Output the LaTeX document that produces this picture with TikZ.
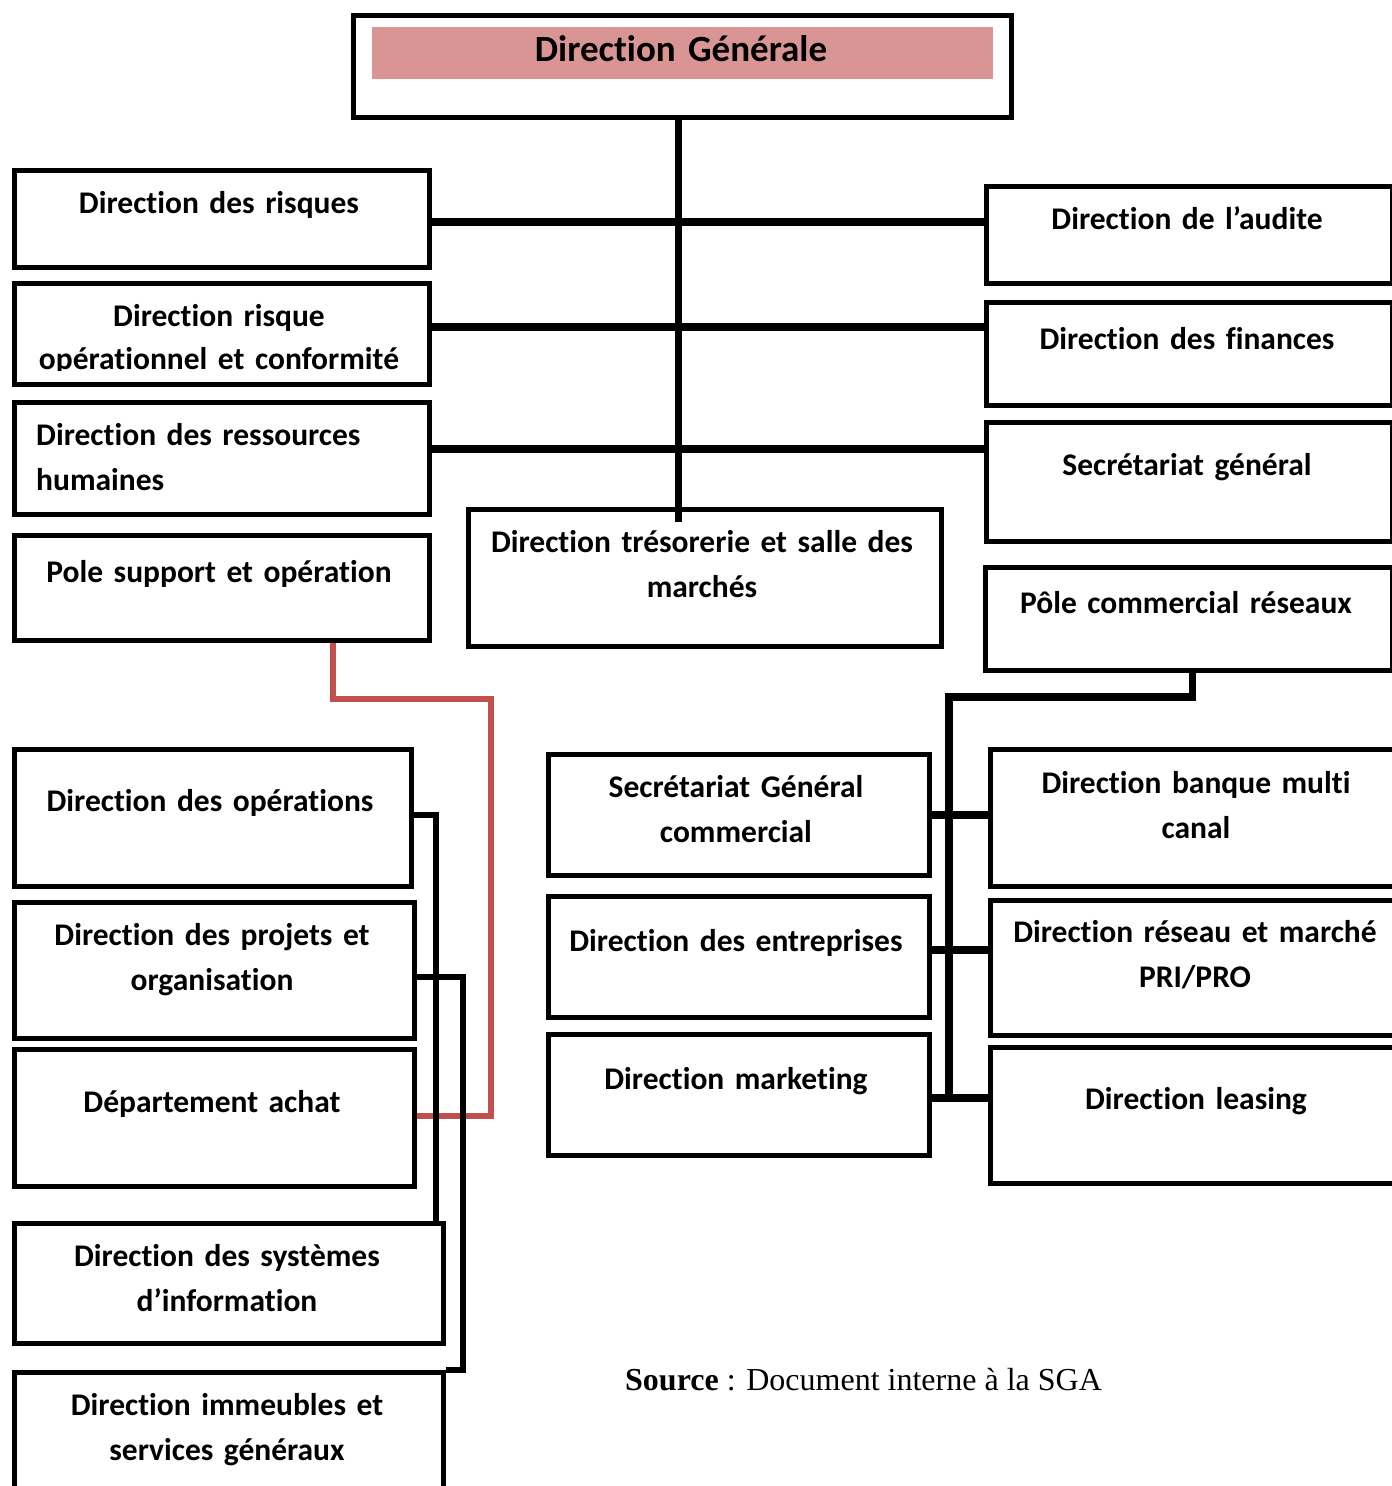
\documentclass[tikz,border=0pt]{standalone}
\usepackage{fontspec}
\setmainfont[Ligatures=NoCommon, WordSpace=0.8]{Carlito}
\newfontfamily\srcfont{Liberation Serif}
\definecolor{titlepink}{RGB}{217,148,148}
\definecolor{linkred}{RGB}{192,80,77}
\begin{document}
\begin{tikzpicture}[x=1pt,y=-1pt,
  box/.style={draw=black, line width=4.5pt, fill=white, rectangle, inner sep=0pt, anchor=north west},
  txt/.style={font=\fontsize{31.5}{45}\selectfont\bfseries, text width=470pt, align=center, anchor=base, inner sep=0pt},
  txtleft/.style={txt, align=left, anchor=base west},
  link/.style={draw=black, line width=7.5pt},
  sublink/.style={draw=black, line width=6.5pt},
  redlink/.style={draw=linkred, line width=6pt}]
\useasboundingbox (0,0) rectangle (1392,1486);

% ---- head ----
\node[box, minimum width=658pt, minimum height=102pt] (dg) at (351,13) {};
\fill[titlepink] (372,27) rectangle (993,79);
\node[txt, font=\fontsize{37}{45}\selectfont\bfseries] (dgtext) at (681,61) {Direction Générale};

% ---- upper left column ----
\node[box, minimum width=415pt, minimum height=97pt]  (risques) at (12,168) {};
\node[box, minimum width=415pt, minimum height=101pt] (rop)     at (12,281) {};
\node[box, minimum width=415pt, minimum height=112pt] (rh)      at (12,400) {};
\node[box, minimum width=415pt, minimum height=105pt] (pso)     at (12,533) {};

% ---- upper right column ----
\node[box, minimum width=406pt, minimum height=97pt]  (audit) at (984,184) {};
\node[box, minimum width=406pt, minimum height=103pt] (fin)   at (984,300) {};
\node[box, minimum width=406pt, minimum height=119pt] (sg)    at (984,420) {};
\node[box, minimum width=407pt, minimum height=103pt] (pcr)   at (983,565) {};

% ---- centre ----
\node[box, minimum width=473pt, minimum height=137pt] (tres) at (466,507) {};

% ---- commercial branch ----
\node[box, minimum width=381pt, minimum height=121pt] (sgc) at (546,752) {};
\node[box, minimum width=381pt, minimum height=121pt] (ent) at (546,894) {};
\node[box, minimum width=381pt, minimum height=121pt] (mkt) at (546,1032) {};
\node[box, minimum width=412pt, minimum height=137pt] (dbm) at (988,747) {};
\node[box, minimum width=412pt, minimum height=135pt] (drm) at (988,898) {};
\node[box, minimum width=412pt, minimum height=136pt] (lea) at (988,1045) {};

% ---- support branch ----
\node[box, minimum width=397pt, minimum height=137pt] (ops) at (12,747) {};
\node[box, minimum width=400pt, minimum height=136pt] (dpo) at (12,900) {};
\node[box, minimum width=400pt, minimum height=137pt] (ach) at (12,1047) {};
\node[box, minimum width=429pt, minimum height=120pt] (dsi) at (12,1221) {};
\node[box, minimum width=429pt, minimum height=130pt] (dis) at (12,1370) {};

% ---- connector helpers ----
\coordinate (h1) at (0,222);
\coordinate (h2) at (0,327);
\coordinate (h3) at (0,449);
\coordinate (rbus) at (949,697);
\coordinate (rend) at (949,1098);
\coordinate (r1) at (0,815);
\coordinate (r2) at (0,950);
\coordinate (r3) at (0,1098);
\coordinate (l1) at (0,815);
\coordinate (l2) at (0,977);
\coordinate (lv1) at (436,0);
\coordinate (lv2) at (463,0);
\coordinate (rc1) at (491,699);
\coordinate (rc2) at (491,1116);

% red link: pole support -> achat
\draw[redlink] ([xshift=111.5pt]pso.south) |- (rc1) -- (rc2) -- (ach.east |- rc2);

% trunk and rails
\draw[link] ([xshift=-4pt]dg.south) -- ([xshift=-26.5pt,yshift=-15pt]tres.north);
\draw[link] (risques.east |- h1) -- (audit.west |- h1);
\draw[link] (rop.east |- h2) -- (fin.west |- h2);
\draw[link] (rh.east |- h3) -- (sg.west |- h3);

% commercial tree
\draw[link] ([xshift=3.5pt]pcr.south) |- (rbus) -- (rend);
\draw[link] (sgc.east |- r1) -- (dbm.west |- r1);
\draw[link] (ent.east |- r2) -- (drm.west |- r2);
\draw[link] (mkt.east |- r3) -- (lea.west |- r3);

% support tree
\draw[sublink] (ops.east |- l1) -| (lv1 |- dsi.north);
\draw[sublink] (dpo.east |- l2) -| (lv2 |- dis.north) -- (dis.north east);

% ---- labels ----
\node[txt] at (219,213) {Direction des risques};
\begin{scope}
  \clip (12,281) rectangle (427,370);
  \node[txt, font=\fontsize{31.5}{43}\selectfont\bfseries] at (219,326) {Direction risque\\opérationnel et conformité};
\end{scope}
\node[txtleft] at (36,445) {Direction des ressources\\humaines};
\node[txt] at (219,582) {Pole support et opération};

\node[txt] at (1187,229) {Direction de l’audite};
\node[txt] at (1187,349) {Direction des finances};
\node[txt] at (1187,475) {Secrétariat général};
\node[txt] at (1186,613) {Pôle commercial réseaux};

\node[txt] at (702,552) {Direction trésorerie et salle des\\marchés};

\node[txt] at (736,797) {Secrétariat Général\\commercial};
\node[txt] at (736,951) {Direction des entreprises};
\node[txt] at (736,1089) {Direction marketing};
\node[txt] at (1196,793) {Direction banque multi\\canal};
\node[txt] at (1195,942) {Direction réseau et marché\\PRI/PRO};
\node[txt] at (1196,1109) {Direction leasing};

\node[txt] at (210,811) {Direction des opérations};
\node[txt] at (212,945) {Direction des projets et\\organisation};
\node[txt] at (212,1112) {Département achat};
\node[txt] at (227,1266) {Direction des systèmes\\d’information};
\node[txt] at (227,1415) {Direction immeubles et\\services généraux};

\node[anchor=base west, inner sep=0pt, font=\fontsize{32}{38}\srcfont] (source) at (625,1390) {\textbf{Source} : Document interne à la SGA};
\end{tikzpicture}
\end{document}
